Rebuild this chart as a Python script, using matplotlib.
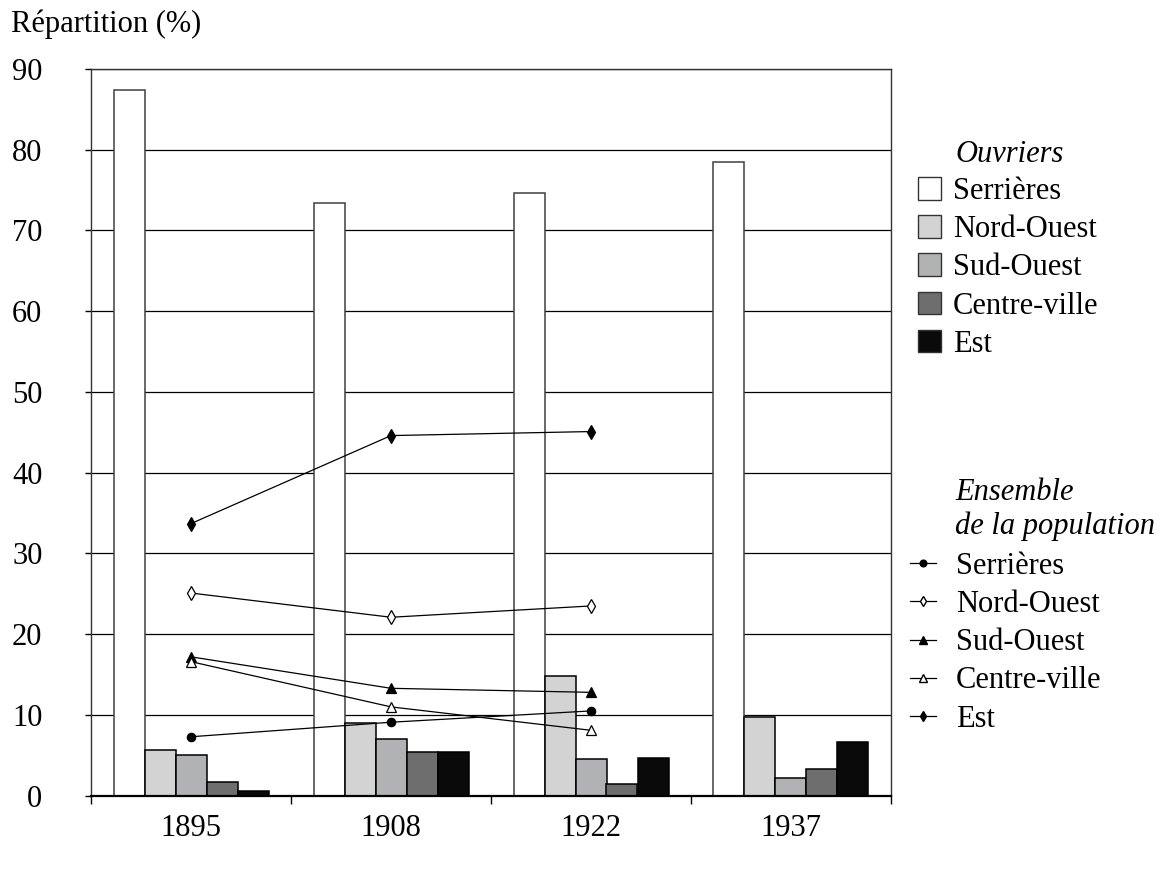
import matplotlib
matplotlib.use("Agg")
import matplotlib.pyplot as plt
from matplotlib.patches import Patch
from matplotlib.lines import Line2D
import numpy as np

plt.rcParams['font.family'] = ['Liberation Serif', 'DejaVu Serif']

years = ["1895", "1908", "1922", "1937"]
quartiers = ["Serrières", "Nord-Ouest", "Sud-Ouest", "Centre-ville", "Est"]

# Ouvriers (bars)
ouv_serrieres = [87.4, 73.4, 74.7, 78.5]
ouv_nord_ouest = [5.6, 9.0, 14.8, 9.7]
ouv_sud_ouest = [5.0, 7.0, 4.6, 2.2]
ouv_centre = [1.7, 5.4, 1.45, 3.3]
ouv_est = [0.6, 5.4, 4.65, 6.6]

# Ensemble de la population (lines, 1895-1922)
pop_serrieres = [7.3, 9.1, 10.5]
pop_nord_ouest = [25.1, 22.1, 23.5]
pop_sud_ouest = [17.2, 13.3, 12.8]
pop_centre = [16.6, 11.0, 8.1]
pop_est = [33.7, 44.6, 45.1]

bar_series = [ouv_serrieres, ouv_nord_ouest, ouv_sud_ouest, ouv_centre, ouv_est]
bar_colors = ["#ffffff", "#d2d3d2", "#b1b2b3", "#6e6e6e", "#0a0a0a"]

line_series = [pop_serrieres, pop_nord_ouest, pop_sud_ouest, pop_centre, pop_est]
line_markers = ["o", "d", "^", "^", "d"]
line_faces = ["black", "white", "black", "white", "black"]
line_msizes = [6, 7, 6.5, 6.5, 7]

FS = 22
W, H = 1166, 869
fig = plt.figure(figsize=(W / 100, H / 100), dpi=100)
ax = fig.add_axes([91 / W, 1 - 795.7 / H, 800 / W, (795.7 - 69) / H])

x = np.arange(len(years))
bw = 0.155
for j, (vals, col) in enumerate(zip(bar_series, bar_colors)):
    ec = "#404040" if j == 0 else "black"
    ax.bar(x + (j - 2) * bw, vals, width=bw, color=col, edgecolor=ec,
           linewidth=1.1, zorder=2)

for vals, m, fc, ms in zip(line_series, line_markers, line_faces, line_msizes):
    xs = x[:len(vals)]
    ax.plot(xs, vals, color="black", linewidth=0.9, marker=m, markersize=ms,
            markerfacecolor=fc, markeredgecolor="black", markeredgewidth=0.9,
            zorder=3)

ax.set_xlim(-0.5, 3.5)
ax.set_ylim(0, 90)
ax.set_yticks(np.arange(0, 91, 10))
ax.yaxis.grid(True, color="black", linewidth=0.9, zorder=0)
ax.set_axisbelow(True)
for s in ax.spines.values():
    s.set_color("#333333")
    s.set_linewidth(1.0)
ax.spines['bottom'].set_color("black")
ax.spines['bottom'].set_linewidth(1.6)

ax.set_xticks(np.arange(-0.5, 3.6, 1.0))
ax.set_xticklabels([])
ax.set_xticks(x, minor=True)
ax.set_xticklabels(years, minor=True)
ax.tick_params(axis="x", which="major", direction="out", length=6, width=1)
ax.tick_params(axis="x", which="minor", length=0, pad=13, labelsize=FS)
ax.tick_params(axis="y", direction="out", length=4, width=1, pad=31, labelsize=FS)
for lab in ax.get_yticklabels():
    lab.set_horizontalalignment("right")

fig.text(11 / W, 1 - 24 / H, "Répartition (%)", fontsize=FS, va="center", ha="left")

# Legend 1 (bars)
fig.text(955 / W, 1 - 154 / H, "Ouvriers", fontsize=FS, style="italic",
         va="center", ha="left")
h1 = [Patch(facecolor=c, edgecolor="#333333", linewidth=1.0) for c in bar_colors]
leg1 = fig.legend(h1, quartiers, loc="upper left",
                  bbox_to_anchor=(918 / W, 1 - 177 / H), frameon=False,
                  fontsize=FS, handlelength=0.75, handleheight=0.75,
                  handletextpad=0.4, labelspacing=0.3, borderpad=0,
                  borderaxespad=0)

# Legend 2 (lines)
fig.text(955 / W, 1 - 492 / H, "Ensemble", fontsize=FS, style="italic",
         va="center", ha="left")
fig.text(955 / W, 1 - 526 / H, "de la population", fontsize=FS, style="italic",
         va="center", ha="left")
h2 = [Line2D([0], [0], color="black", linewidth=0.9, marker=m, markersize=ms * 0.8,
             markerfacecolor=fc, markeredgecolor="black")
      for m, fc, ms in zip(line_markers, line_faces, line_msizes)]
leg2 = fig.legend(h2, quartiers, loc="upper left",
                  bbox_to_anchor=(910 / W, 1 - 552 / H), frameon=False,
                  fontsize=FS, handlelength=0.85, handletextpad=0.65,
                  labelspacing=0.3, borderpad=0, borderaxespad=0)

fig.savefig("out.png", dpi=100, facecolor="white")
